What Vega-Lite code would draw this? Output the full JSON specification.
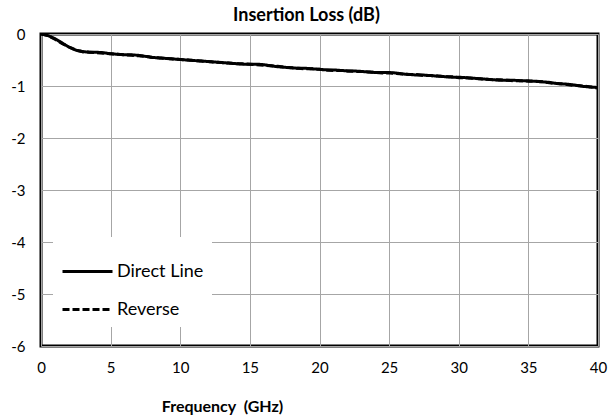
{
  "$schema": "https://vega.github.io/schema/vega-lite/v6.json",
  "width": 557,
  "height": 312,
  "autosize": {"type": "none"},
  "padding": {"left": 41, "top": 34, "right": 13, "bottom": 74},
  "background": "white",
  "title": {"text": "Insertion Loss (dB)", "fontSize": 18, "fontWeight": "bold", "font": "Lato", "color": "black", "offset": 2, "anchor": "middle", "dx": -13},
  "data": {"values": [
    {"s":"Direct Line","f":0,"v":0},{"s":"Direct Line","f":0.5,"v":-0.03},{"s":"Direct Line","f":1,"v":-0.09},{"s":"Direct Line","f":1.5,"v":-0.17},{"s":"Direct Line","f":2,"v":-0.25},{"s":"Direct Line","f":2.5,"v":-0.31},{"s":"Direct Line","f":3,"v":-0.34},{"s":"Direct Line","f":3.5,"v":-0.35},{"s":"Direct Line","f":4,"v":-0.35},{"s":"Direct Line","f":4.5,"v":-0.36},
    {"s":"Direct Line","f":5,"v":-0.38},{"s":"Direct Line","f":5.5,"v":-0.39},{"s":"Direct Line","f":6,"v":-0.4},{"s":"Direct Line","f":6.5,"v":-0.4},{"s":"Direct Line","f":7,"v":-0.41},{"s":"Direct Line","f":7.5,"v":-0.43},{"s":"Direct Line","f":8,"v":-0.45},{"s":"Direct Line","f":8.5,"v":-0.46},{"s":"Direct Line","f":9,"v":-0.47},{"s":"Direct Line","f":9.5,"v":-0.48},
    {"s":"Direct Line","f":10,"v":-0.49},{"s":"Direct Line","f":10.5,"v":-0.5},{"s":"Direct Line","f":11,"v":-0.51},{"s":"Direct Line","f":11.5,"v":-0.52},{"s":"Direct Line","f":12,"v":-0.53},{"s":"Direct Line","f":12.5,"v":-0.54},{"s":"Direct Line","f":13,"v":-0.55},{"s":"Direct Line","f":13.5,"v":-0.56},{"s":"Direct Line","f":14,"v":-0.57},{"s":"Direct Line","f":14.5,"v":-0.58},
    {"s":"Direct Line","f":15,"v":-0.58},{"s":"Direct Line","f":15.5,"v":-0.58},{"s":"Direct Line","f":16,"v":-0.59},{"s":"Direct Line","f":16.5,"v":-0.61},{"s":"Direct Line","f":17,"v":-0.63},{"s":"Direct Line","f":17.5,"v":-0.64},{"s":"Direct Line","f":18,"v":-0.65},{"s":"Direct Line","f":18.5,"v":-0.66},{"s":"Direct Line","f":19,"v":-0.66},{"s":"Direct Line","f":19.5,"v":-0.67},
    {"s":"Direct Line","f":20,"v":-0.68},{"s":"Direct Line","f":20.5,"v":-0.69},{"s":"Direct Line","f":21,"v":-0.69},{"s":"Direct Line","f":21.5,"v":-0.7},{"s":"Direct Line","f":22,"v":-0.71},{"s":"Direct Line","f":22.5,"v":-0.71},{"s":"Direct Line","f":23,"v":-0.72},{"s":"Direct Line","f":23.5,"v":-0.73},{"s":"Direct Line","f":24,"v":-0.74},{"s":"Direct Line","f":24.5,"v":-0.74},
    {"s":"Direct Line","f":25,"v":-0.74},{"s":"Direct Line","f":25.5,"v":-0.75},{"s":"Direct Line","f":26,"v":-0.77},{"s":"Direct Line","f":26.5,"v":-0.78},{"s":"Direct Line","f":27,"v":-0.79},{"s":"Direct Line","f":27.5,"v":-0.79},{"s":"Direct Line","f":28,"v":-0.8},{"s":"Direct Line","f":28.5,"v":-0.81},{"s":"Direct Line","f":29,"v":-0.82},{"s":"Direct Line","f":29.5,"v":-0.83},
    {"s":"Direct Line","f":30,"v":-0.83},{"s":"Direct Line","f":30.5,"v":-0.84},{"s":"Direct Line","f":31,"v":-0.85},{"s":"Direct Line","f":31.5,"v":-0.86},{"s":"Direct Line","f":32,"v":-0.87},{"s":"Direct Line","f":32.5,"v":-0.88},{"s":"Direct Line","f":33,"v":-0.89},{"s":"Direct Line","f":33.5,"v":-0.89},{"s":"Direct Line","f":34,"v":-0.89},{"s":"Direct Line","f":34.5,"v":-0.9},
    {"s":"Direct Line","f":35,"v":-0.9},{"s":"Direct Line","f":35.5,"v":-0.91},{"s":"Direct Line","f":36,"v":-0.92},{"s":"Direct Line","f":36.5,"v":-0.93},{"s":"Direct Line","f":37,"v":-0.95},{"s":"Direct Line","f":37.5,"v":-0.96},{"s":"Direct Line","f":38,"v":-0.97},{"s":"Direct Line","f":38.5,"v":-0.99},{"s":"Direct Line","f":39,"v":-1.01},{"s":"Direct Line","f":39.5,"v":-1.02},{"s":"Direct Line","f":40,"v":-1.03},
    {"s":"Reverse","f":0,"v":0},{"s":"Reverse","f":0.5,"v":-0.03},{"s":"Reverse","f":1,"v":-0.1},{"s":"Reverse","f":1.5,"v":-0.18},{"s":"Reverse","f":2,"v":-0.25},{"s":"Reverse","f":2.5,"v":-0.31},{"s":"Reverse","f":3,"v":-0.34},{"s":"Reverse","f":3.5,"v":-0.35},{"s":"Reverse","f":4,"v":-0.36},{"s":"Reverse","f":4.5,"v":-0.37},
    {"s":"Reverse","f":5,"v":-0.38},{"s":"Reverse","f":5.5,"v":-0.39},{"s":"Reverse","f":6,"v":-0.4},{"s":"Reverse","f":6.5,"v":-0.41},{"s":"Reverse","f":7,"v":-0.42},{"s":"Reverse","f":7.5,"v":-0.43},{"s":"Reverse","f":8,"v":-0.45},{"s":"Reverse","f":8.5,"v":-0.46},{"s":"Reverse","f":9,"v":-0.47},{"s":"Reverse","f":9.5,"v":-0.48},
    {"s":"Reverse","f":10,"v":-0.49},{"s":"Reverse","f":10.5,"v":-0.5},{"s":"Reverse","f":11,"v":-0.51},{"s":"Reverse","f":11.5,"v":-0.52},{"s":"Reverse","f":12,"v":-0.53},{"s":"Reverse","f":12.5,"v":-0.54},{"s":"Reverse","f":13,"v":-0.55},{"s":"Reverse","f":13.5,"v":-0.56},{"s":"Reverse","f":14,"v":-0.57},{"s":"Reverse","f":14.5,"v":-0.57},
    {"s":"Reverse","f":15,"v":-0.58},{"s":"Reverse","f":15.5,"v":-0.59},{"s":"Reverse","f":16,"v":-0.6},{"s":"Reverse","f":16.5,"v":-0.61},{"s":"Reverse","f":17,"v":-0.62},{"s":"Reverse","f":17.5,"v":-0.64},{"s":"Reverse","f":18,"v":-0.65},{"s":"Reverse","f":18.5,"v":-0.66},{"s":"Reverse","f":19,"v":-0.67},{"s":"Reverse","f":19.5,"v":-0.67},
    {"s":"Reverse","f":20,"v":-0.68},{"s":"Reverse","f":20.5,"v":-0.69},{"s":"Reverse","f":21,"v":-0.7},{"s":"Reverse","f":21.5,"v":-0.7},{"s":"Reverse","f":22,"v":-0.71},{"s":"Reverse","f":22.5,"v":-0.72},{"s":"Reverse","f":23,"v":-0.72},{"s":"Reverse","f":23.5,"v":-0.73},{"s":"Reverse","f":24,"v":-0.74},{"s":"Reverse","f":24.5,"v":-0.75},
    {"s":"Reverse","f":25,"v":-0.75},{"s":"Reverse","f":25.5,"v":-0.76},{"s":"Reverse","f":26,"v":-0.77},{"s":"Reverse","f":26.5,"v":-0.78},{"s":"Reverse","f":27,"v":-0.78},{"s":"Reverse","f":27.5,"v":-0.8},{"s":"Reverse","f":28,"v":-0.8},{"s":"Reverse","f":28.5,"v":-0.81},{"s":"Reverse","f":29,"v":-0.82},{"s":"Reverse","f":29.5,"v":-0.82},
    {"s":"Reverse","f":30,"v":-0.84},{"s":"Reverse","f":30.5,"v":-0.84},{"s":"Reverse","f":31,"v":-0.85},{"s":"Reverse","f":31.5,"v":-0.86},{"s":"Reverse","f":32,"v":-0.87},{"s":"Reverse","f":32.5,"v":-0.88},{"s":"Reverse","f":33,"v":-0.88},{"s":"Reverse","f":33.5,"v":-0.89},{"s":"Reverse","f":34,"v":-0.9},{"s":"Reverse","f":34.5,"v":-0.9},
    {"s":"Reverse","f":35,"v":-0.91},{"s":"Reverse","f":35.5,"v":-0.91},{"s":"Reverse","f":36,"v":-0.92},{"s":"Reverse","f":36.5,"v":-0.94},{"s":"Reverse","f":37,"v":-0.95},{"s":"Reverse","f":37.5,"v":-0.96},{"s":"Reverse","f":38,"v":-0.98},{"s":"Reverse","f":38.5,"v":-0.99},{"s":"Reverse","f":39,"v":-1.0},{"s":"Reverse","f":39.5,"v":-1.02},{"s":"Reverse","f":40,"v":-1.04}
  ]},
  "mark": {"type": "line", "color": "black", "strokeWidth": 3, "clip": true},
  "encoding": {
    "x": {
      "field": "f", "type": "quantitative",
      "scale": {"domain": [0, 40], "nice": false, "zero": false},
      "axis": {
        "values": [0, 5, 10, 15, 20, 25, 30, 35, 40],
        "title": "Frequency\u00a0\u00a0(GHz)",
        "titleX": 181, "titleY": 65, "titleBaseline": "alphabetic", "titleAlign": "center",
        "labelPadding": 14, "labelFlush": false
      }
    },
    "y": {
      "field": "v", "type": "quantitative",
      "scale": {"domain": [-6, 0], "nice": false, "zero": false},
      "axis": {"values": [-6, -5, -4, -3, -2, -1, 0], "title": null, "labelPadding": 16, "labelExpr": "'' + datum.value"}
    },
    "strokeDash": {
      "field": "s", "type": "nominal",
      "scale": {"domain": ["Direct Line", "Reverse"], "range": [[1, 0], [7, 3]]},
      "legend": {
        "orient": "none", "legendX": 12, "legendY": 203,
        "title": null, "fillColor": "white", "padding": 8,
        "symbolType": "stroke", "symbolStrokeColor": "black", "symbolStrokeWidth": 3,
        "symbolSize": 2500, "rowPadding": 2,
        "labelFontSize": 18, "labelFont": "Lato", "labelColor": "black", "labelOffset": 3
      }
    }
  },
  "config": {
    "view": {"stroke": "black", "strokeWidth": 3},
    "axis": {
      "grid": true, "gridColor": "#a6a6a6", "gridWidth": 1,
      "ticks": false, "domain": false,
      "labelFont": "Lato", "labelFontSize": 15, "labelColor": "black",
      "titleFont": "Lato", "titleFontSize": 16, "titleFontWeight": "bold", "titleColor": "black"
    }
  }
}
